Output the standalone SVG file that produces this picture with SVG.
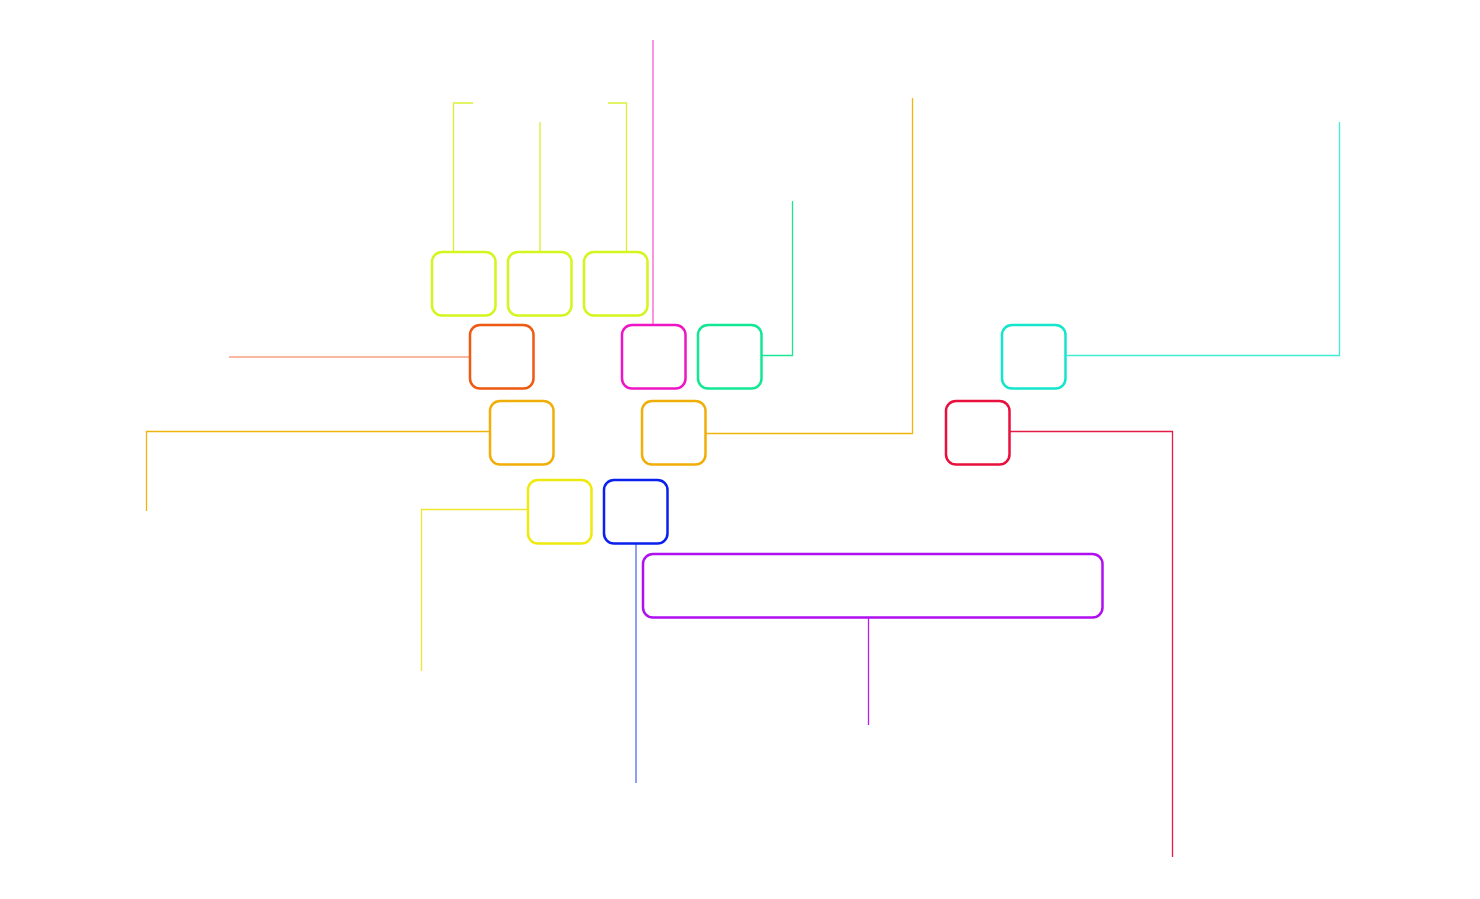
<svg xmlns="http://www.w3.org/2000/svg" width="1480" height="899" viewBox="0 0 1480 899">
<style>
.n{fill:#fff;stroke-width:2.5}
.c{fill:none;stroke-width:1.3}
</style>
<rect width="1480" height="899" fill="#fff"/>
<g id="connectors">
<polyline class="c" points="473,103 453.5,103 453.5,252" stroke="#d6f01e" opacity="0.9"/>
<polyline class="c" points="540,122 540,252" stroke="#d6f01e" opacity="0.9"/>
<polyline class="c" points="608,103 626.5,103 626.5,252" stroke="#d6f01e" opacity="0.9"/>
<polyline class="c" points="653,40 653,325" stroke="#f040c8" opacity="0.85"/>
<polyline class="c" points="229,357 470,357" stroke="#f0602a" opacity="0.6" style="stroke-width:1.5"/>
<polyline class="c" points="489,431.5 146.5,431.5 146.5,511" stroke="#eeb000" opacity="0.95"/>
<polyline class="c" points="706,433.5 912.5,433.5 912.5,98" stroke="#eeb000" opacity="0.95"/>
<polyline class="c" points="762,355.5 792.5,355.5 792.5,201" stroke="#10e690" opacity="0.95"/>
<polyline class="c" points="1067,355.5 1339.5,355.5 1339.5,122" stroke="#20e8cc" opacity="0.85"/>
<polyline class="c" points="1010,431.5 1172.5,431.5 1172.5,857" stroke="#e0103c" opacity="0.95"/>
<polyline class="c" points="527,509.5 421.5,509.5 421.5,671" stroke="#ece41a" opacity="0.9"/>
<polyline class="c" points="636,544 636,783" stroke="#3050f0" opacity="0.85"/>
<polyline class="c" points="868.5,618 868.5,725" stroke="#b010f0" opacity="0.95"/>
</g>
<g id="n1"><rect class="n" x="432" y="252" width="63.5" height="63.5" rx="10" stroke="#d4f51e"/></g>
<g id="n2"><rect class="n" x="508" y="252" width="63.5" height="63.5" rx="10" stroke="#d4f51e"/></g>
<g id="n3"><rect class="n" x="584" y="252" width="63.5" height="63.5" rx="10" stroke="#d4f51e"/></g>
<g id="n4"><rect class="n" x="470" y="325" width="63.5" height="63.5" rx="10" stroke="#ee5a12"/></g>
<g id="n5"><rect class="n" x="622" y="325" width="63.5" height="63.5" rx="10" stroke="#ee16c4"/></g>
<g id="n6"><rect class="n" x="698" y="325" width="63.5" height="63.5" rx="10" stroke="#12e894"/></g>
<g id="n7"><rect class="n" x="1002" y="325" width="63.5" height="63.5" rx="10" stroke="#14e6cc"/></g>
<g id="n8"><rect class="n" x="490" y="401" width="63.5" height="63.5" rx="10" stroke="#f0ae08"/></g>
<g id="n9"><rect class="n" x="642" y="401" width="63.5" height="63.5" rx="10" stroke="#f0ae08"/></g>
<g id="n10"><rect class="n" x="946" y="401" width="63.5" height="63.5" rx="10" stroke="#e8103c"/></g>
<g id="n11"><rect class="n" x="528" y="480" width="63.5" height="63.5" rx="10" stroke="#eeea10"/></g>
<g id="n12"><rect class="n" x="604" y="480" width="63.5" height="63.5" rx="10" stroke="#0a20ee"/></g>
<g id="n13"><rect class="n" x="643" y="554" width="459.5" height="63.5" rx="10" stroke="#b010f0"/></g>
</svg>
